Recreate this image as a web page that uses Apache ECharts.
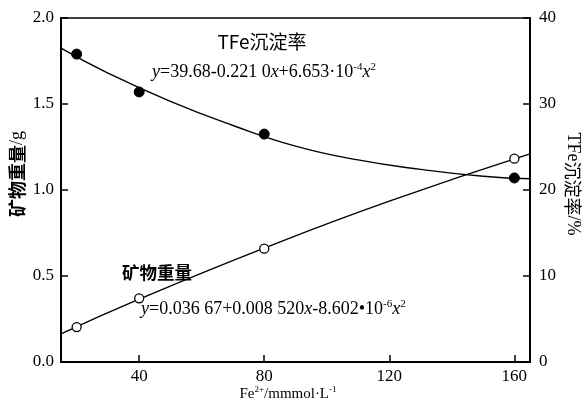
<!DOCTYPE html>
<html><head><meta charset="utf-8">
<script src="https://cdn.jsdelivr.net/npm/echarts@6/dist/echarts.min.js"></script>
<style>html,body{margin:0;padding:0;background:#fff}#c{width:583px;height:409px}</style>
</head><body><div id="c"></div>
<script>
// ---- data ----
const xTicks = [40, 80, 120, 160];
const pointX = [20, 40, 80, 160];
const mineralWeight = [0.203, 0.370, 0.659, 1.182];      // g (left axis), open circles
const tfeRate = [35.8, 31.4, 26.5, 21.4];                 // % (right axis), filled circles
const mineralFitX = [15, 40, 80, 120, 165];
const mineralFitY = [0.163, 0.365, 0.662, 0.935, 1.21];
const tfeFitX = [15, 30, 50, 70, 90, 110, 130, 150, 165];
const tfeFitY = [36.5, 33.6, 30.3, 27.5, 25.1, 23.5, 22.4, 21.6, 21.3];

const pair = (xs, ys) => xs.map((x, i) => [x, ys[i]]);
const serif = '"Liberation Serif","Times New Roman",serif';
const cjk = '"Noto Sans CJK SC","Liberation Serif",sans-serif';

const chart = echarts.init(document.getElementById('c'), null, {renderer: 'canvas'});
const eqRich = {
  i: {fontFamily: serif, fontSize: 18, fontStyle: 'italic', lineHeight: 20, fill: '#000'},
  n: {fontFamily: serif, fontSize: 18, lineHeight: 20, fill: '#000'},
  s: {fontFamily: serif, fontSize: 11, verticalAlign: 'top', lineHeight: 20, fill: '#000'}
};
chart.setOption({
  animation: false,
  backgroundColor: '#fff',
  grid: {left: 61, right: 53, top: 18, bottom: 47, show: true, borderColor: '#000', borderWidth: 1.5, backgroundColor: 'transparent'},
  xAxis: {
    type: 'value', min: 15, max: 165,
    axisLine: {show: true, onZero: false, lineStyle: {color: '#000', width: 2}},
    axisTick: {show: true, inside: true, length: 7, customValues: xTicks, lineStyle: {color: '#000', width: 1.5}},
    axisLabel: {customValues: xTicks, color: '#000', fontFamily: serif, fontSize: 17, margin: 6},
    splitLine: {show: false}
  },
  yAxis: [{
    type: 'value', min: 0, max: 2, interval: 0.5, position: 'left',
    axisLine: {show: true, lineStyle: {color: '#000', width: 2}},
    axisTick: {show: true, inside: true, length: 7, lineStyle: {color: '#000', width: 1.5}},
    axisLabel: {color: '#000', fontFamily: serif, fontSize: 17, margin: 7, formatter: v => v.toFixed(1)},
    splitLine: {show: false}
  }, {
    type: 'value', min: 0, max: 40, interval: 10, position: 'right',
    axisLine: {show: true, lineStyle: {color: '#000', width: 2}},
    axisTick: {show: true, inside: true, length: 7, lineStyle: {color: '#000', width: 1.5}},
    axisLabel: {color: '#000', fontFamily: serif, fontSize: 17, margin: 9},
    splitLine: {show: false}
  }],
  series: [
    {type: 'line', yAxisIndex: 1, data: pair(tfeFitX, tfeFitY), smooth: true, showSymbol: false, symbol: 'none',
     lineStyle: {color: '#000', width: 1.4}, z: 2},
    {type: 'line', yAxisIndex: 0, data: pair(mineralFitX, mineralFitY), smooth: true, showSymbol: false, symbol: 'none',
     lineStyle: {color: '#000', width: 1.4}, z: 2},
    {type: 'scatter', yAxisIndex: 1, data: pair(pointX, tfeRate), symbol: 'circle', symbolSize: 10,
     itemStyle: {color: '#000', borderColor: '#000', borderWidth: 1, opacity: 1}, z: 5},
    {type: 'scatter', yAxisIndex: 0, data: pair(pointX, mineralWeight), symbol: 'circle', symbolSize: 9,
     itemStyle: {color: '#fff', borderColor: '#000', borderWidth: 1.3, opacity: 1}, z: 5}
  ],
  graphic: [
    {type: 'text', x: 17, y: 174, rotation: Math.PI / 2, z: 10,
     style: {text: '{c|矿物重量}{n|/g}', align: 'center', verticalAlign: 'middle',
       rich: {c: {fontFamily: cjk, fontSize: 18, fontWeight: 'bold', fill: '#000'}, n: {fontFamily: serif, fontSize: 18, fill: '#000'}}}},
    {type: 'text', x: 573, y: 184, rotation: -Math.PI / 2, z: 10,
     style: {text: '{n|TFe}{c|沉淀率}{n|/%}', align: 'center', verticalAlign: 'middle',
       rich: {c: {fontFamily: cjk, fontSize: 18, fill: '#000'}, n: {fontFamily: serif, fontSize: 18, fill: '#000'}}}},
    {type: 'text', x: 288, y: 394, z: 10,
     style: {text: '{n|Fe}{s|2+}{n|/mmmol·L}{s|-1}', align: 'center', verticalAlign: 'middle',
       rich: {n: {fontFamily: serif, fontSize: 15, lineHeight: 17, fill: '#000'}, s: {fontFamily: serif, fontSize: 9, verticalAlign: 'top', lineHeight: 17, fill: '#000'}}}},
    {type: 'text', x: 262, y: 42, z: 10,
     style: {text: 'TFe沉淀率', align: 'center', verticalAlign: 'middle', fontFamily: cjk, fontSize: 19, fill: '#000'}},
    {type: 'text', x: 152, y: 72, z: 10,
     style: {text: '{i|y}{n|=39.68-0.221 0}{i|x}{n|+6.653·10}{s|-4}{i|x}{s|2}', align: 'left', verticalAlign: 'middle', rich: eqRich}},
    {type: 'text', x: 157, y: 272, z: 10,
     style: {text: '矿物重量', align: 'center', verticalAlign: 'middle', fontFamily: cjk, fontSize: 17.5, fontWeight: 'bold', fill: '#000'}},
    {type: 'text', x: 141, y: 309, z: 10,
     style: {text: '{i|y}{n|=0.036 67+0.008 520}{i|x}{n|-8.602•10}{s|-6}{i|x}{s|2}', align: 'left', verticalAlign: 'middle', rich: eqRich}}
  ]
});
</script></body></html>
